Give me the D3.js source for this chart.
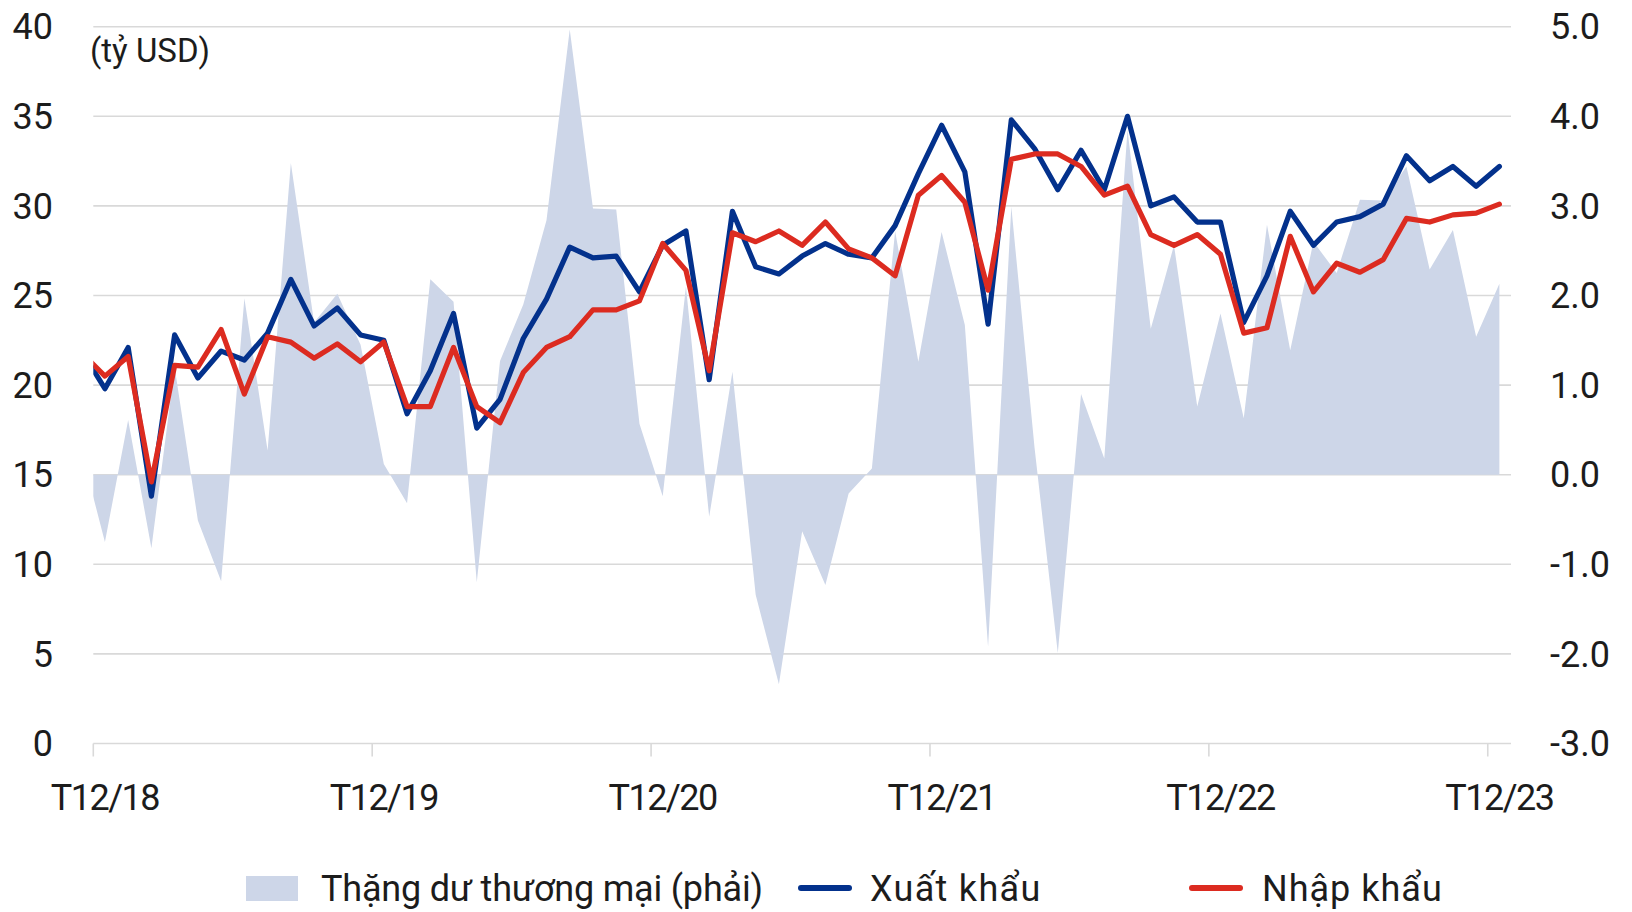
<!DOCTYPE html>
<html>
<head>
<meta charset="utf-8">
<script src="https://cdn.jsdelivr.net/npm/d3@7"></script>
<style>
  body { margin: 0; background: #fff; }
  svg { display: block; font-family: Roboto, 'Noto Sans', sans-serif; }
</style>
</head>
<body>
<svg id="chart" width="1632" height="912"></svg>
<script>
// monthly data, T11/18 .. T12/23 (first month only shows as the clipped start of the lines)
const startMonth = { year: 2018, month: 11 };

const exportsVal = [
  21.9, 19.8, 22.1, 13.8, 22.8, 20.4, 21.9, 21.4, 22.9, 25.9, 23.3, 24.3, 22.8,
  22.5, 18.4, 20.8, 24.0, 17.6, 19.2, 22.6, 24.8, 27.7, 27.1, 27.2, 25.2,
  27.8, 28.6, 20.3, 29.7, 26.6, 26.2, 27.2, 27.9, 27.3, 27.1, 28.9, 31.8,
  34.5, 31.9, 23.4, 34.8, 33.2, 30.9, 33.1, 30.9, 35.0, 30.0, 30.5, 29.1,
  29.1, 23.5, 26.1, 29.7, 27.8, 29.1, 29.4, 30.1, 32.8, 31.4, 32.2, 31.1,
  32.2
];

const importsVal = [
  21.8, 20.5, 21.6, 14.6, 21.1, 21.0, 23.1, 19.5, 22.7, 22.4, 21.5, 22.3, 21.3,
  22.4, 18.8, 18.8, 22.1, 18.8, 17.9, 20.7, 22.1, 22.7, 24.2, 24.2, 24.7,
  27.9, 26.4, 20.8, 28.5, 28.0, 28.6, 27.8, 29.1, 27.6, 27.1, 26.1, 30.6,
  31.7, 30.2, 25.3, 32.6, 32.9, 32.9, 32.2, 30.6, 31.1, 28.4, 27.8, 28.4,
  27.3, 22.9, 23.2, 28.3, 25.2, 26.8, 26.3, 27.0, 29.3, 29.1, 29.5, 29.6,
  30.1
];

// right axis
const balanceVal = [
  0.25, -0.75, 0.61, -0.82, 1.2, -0.51, -1.19, 1.97, 0.27, 3.48, 1.7, 2.02, 1.45,
  0.12, -0.32, 2.18, 1.93, -1.2, 1.27, 1.9, 2.84, 4.97, 2.97, 2.96, 0.57,
  -0.24, 2.1, -0.47, 1.15, -1.34, -2.34, -0.63, -1.23, -0.21, 0.07, 2.72, 1.26,
  2.71, 1.67, -1.92, 2.99, 0.3, -1.99, 0.9, 0.18, 3.85, 1.63, 2.56, 0.76,
  1.8, 0.63, 2.79, 1.39, 2.6, 2.25, 3.07, 3.06, 3.44, 2.29, 2.73, 1.54,
  2.13
];

const xTickLabels = ['T12/18', 'T12/19', 'T12/20', 'T12/21', 'T12/22', 'T12/23'];
const leftTicks = [0, 5, 10, 15, 20, 25, 30, 35, 40];
const rightTicks = [-3, -2, -1, 0, 1, 2, 3, 4, 5];

const config = {
  'left': 93.3,
  'right': 1511,
  'top': 26.7,
  'bottom': 743.5,
  'grid': '#d9d9d9',
  'area': '#cdd6e8',
  'blue': '#03318c',
  'red': '#dc2b20',
  'text': '#1c1c1c',
  'font-size': '36px'
};

// index -1 = T11/18, 0 = T12/18, ... 60 = T12/23
const months = exportsVal.map((v, k) => {
  const m = (startMonth.month - 1 + k) % 12 + 1;
  const y = startMonth.year + Math.floor((startMonth.month - 1 + k) / 12);
  return { idx: k - 1, label: `T${m}/${String(y).slice(2)}` };
});
const rows = months.map((m, k) => ({
  idx: m.idx,
  label: m.label,
  exp: exportsVal[k],
  imp: importsVal[k],
  bal: balanceVal[k]
}));

const svg = d3.select('#chart');

const x = d3.scaleLinear().domain([-0.5, 60.5]).range([config.left, config.right]);
const yL = d3.scaleLinear().domain([0, 40]).range([config.bottom, config.top]);
const yR = d3.scaleLinear().domain([-3, 5]).range([config.bottom, config.top]);

svg.append('defs')
  .append('clipPath')
  .attr('id', 'plot')
  .append('rect')
  .attr('x', config.left)
  .attr('y', 0)
  .attr('width', config.right - config.left)
  .attr('height', 912);

// gridlines
svg.append('g')
  .selectAll('line')
  .data(leftTicks)
  .enter()
  .append('line')
  .attr('x1', config.left)
  .attr('x2', config.right)
  .attr('y1', d => yL(d))
  .attr('y2', d => yL(d))
  .attr('stroke', config.grid)
  .attr('stroke-width', 1.6);

// x ticks sit on month boundaries, labels on the month itself
const tickIdx = xTickLabels.map((t, k) => k * 12);
svg.append('g')
  .selectAll('line')
  .data(tickIdx)
  .enter()
  .append('line')
  .attr('x1', d => x(d - 0.5))
  .attr('x2', d => x(d - 0.5))
  .attr('y1', config.bottom)
  .attr('y2', config.bottom + 13)
  .attr('stroke', config.grid)
  .attr('stroke-width', 1.6);

const plot = svg.append('g').attr('clip-path', 'url(#plot)');

plot.append('path')
  .datum(rows)
  .attr('fill', config.area)
  .attr('d', d3.area()
    .x(d => x(d.idx))
    .y0(yR(0))
    .y1(d => yR(d.bal)));

const line = key => d3.line().x(d => x(d.idx)).y(d => yL(d[key]));

plot.append('path')
  .datum(rows)
  .attr('fill', 'none')
  .attr('stroke', config.blue)
  .attr('stroke-width', 5.2)
  .attr('stroke-linejoin', 'round')
  .attr('stroke-linecap', 'round')
  .attr('d', line('exp'));

plot.append('path')
  .datum(rows)
  .attr('fill', 'none')
  .attr('stroke', config.red)
  .attr('stroke-width', 5.2)
  .attr('stroke-linejoin', 'round')
  .attr('stroke-linecap', 'round')
  .attr('d', line('imp'));

// axes text
svg.append('g')
  .selectAll('text')
  .data(leftTicks)
  .enter()
  .append('text')
  .attr('x', 53)
  .attr('y', d => yL(d))
  .attr('dy', '0.35em')
  .attr('text-anchor', 'end')
  .style('font-size', config['font-size'])
  .attr('fill', config.text)
  .text(d => d);

svg.append('g')
  .selectAll('text')
  .data(rightTicks)
  .enter()
  .append('text')
  .attr('x', 1550)
  .attr('y', d => yR(d))
  .attr('dy', '0.35em')
  .style('font-size', config['font-size'])
  .attr('fill', config.text)
  .text(d => d3.format('.1f')(d).replace('−', '-'));

svg.append('g')
  .selectAll('text')
  .data(xTickLabels)
  .enter()
  .append('text')
  .attr('x', (d, i) => x(tickIdx[i]))
  .attr('y', 810)
  .attr('text-anchor', 'middle')
  .style('font-size', config['font-size'])
  .style('letter-spacing', '-1.5px')
  .attr('fill', config.text)
  .text(d => d);

svg.append('text')
  .attr('x', 90)
  .attr('y', 62)
  .style('font-size', '33px')
  .attr('fill', config.text)
  .text('(tỷ USD)');

// legend
const legend = svg.append('g').style('font-size', config['font-size']).attr('fill', config.text);

legend.append('rect')
  .attr('x', 246).attr('y', 876)
  .attr('width', 52).attr('height', 25)
  .attr('fill', config.area);
legend.append('text')
  .attr('x', 321).attr('y', 901)
  .style('letter-spacing', '-0.2px')
  .text('Thặng dư thương mại (phải)');

legend.append('line')
  .attr('x1', 801).attr('x2', 849)
  .attr('y1', 888).attr('y2', 888)
  .attr('stroke', config.blue)
  .attr('stroke-width', 6)
  .attr('stroke-linecap', 'round');
legend.append('text')
  .attr('x', 870).attr('y', 901)
  .style('letter-spacing', '1.3px')
  .text('Xuất khẩu');

legend.append('line')
  .attr('x1', 1192).attr('x2', 1240)
  .attr('y1', 888).attr('y2', 888)
  .attr('stroke', config.red)
  .attr('stroke-width', 6)
  .attr('stroke-linecap', 'round');
legend.append('text')
  .attr('x', 1262).attr('y', 901)
  .style('letter-spacing', '1px')
  .text('Nhập khẩu');
</script>
</body>
</html>
